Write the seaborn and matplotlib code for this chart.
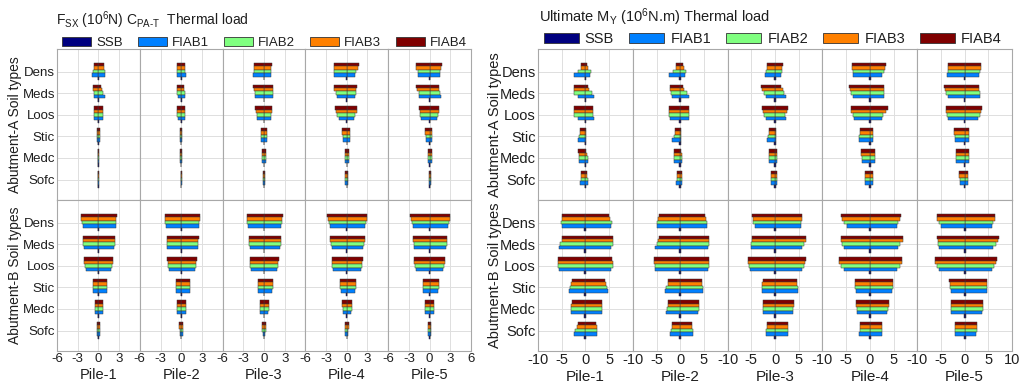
import matplotlib
matplotlib.use("Agg")
import matplotlib.pyplot as plt
from matplotlib.patches import Patch
import numpy as np
import pandas as pd
import seaborn as sns

# ---------------------------------------------------------------- labels
SOILS = ["Dens", "Meds", "Loos", "Stic", "Medc", "Sofc"]
SERIES = ["SSB", "FIAB1", "FIAB2", "FIAB3", "FIAB4"]
PILES = ["Pile-1", "Pile-2", "Pile-3", "Pile-4", "Pile-5"]
COLORS = ["#00007f", "#0080ff", "#80ff80", "#ff8000", "#7f0000"]

# ---------------------------------------------------------------- F_SX (10^6 N), rows = piles, cols = soils
FSX_A_MAX = {
    "SSB":   [[0.05, 0.05, 0.05, 0.03, 0.03, 0.02], [0.05, 0.05, 0.05, 0.03, 0.03, 0.02],
              [0.05, 0.05, 0.05, 0.03, 0.03, 0.02], [0.05, 0.05, 0.05, 0.03, 0.03, 0.02],
              [0.05, 0.05, 0.05, 0.03, 0.03, 0.02]],
    "FIAB1": [[1.00, 1.00, 0.70, 0.25, 0.15, 0.08], [0.65, 0.60, 0.55, 0.15, 0.15, 0.06],
              [0.95, 1.25, 0.95, 0.45, 0.30, 0.15], [1.20, 1.20, 1.00, 0.45, 0.30, 0.20],
              [1.45, 1.70, 1.00, 0.35, 0.30, 0.15]],
    "FIAB2": [[0.90, 0.65, 0.70, 0.20, 0.15, 0.08], [0.60, 0.50, 0.55, 0.15, 0.15, 0.06],
              [1.00, 1.25, 1.05, 0.45, 0.30, 0.15], [1.40, 1.35, 1.25, 0.45, 0.30, 0.20],
              [1.55, 1.55, 1.15, 0.35, 0.30, 0.15]],
    "FIAB3": [[0.85, 0.45, 0.70, 0.20, 0.15, 0.08], [0.60, 0.45, 0.60, 0.15, 0.15, 0.06],
              [1.05, 1.25, 1.15, 0.45, 0.30, 0.15], [1.65, 1.40, 1.45, 0.50, 0.30, 0.20],
              [1.70, 1.40, 1.30, 0.35, 0.30, 0.15]],
    "FIAB4": [[0.85, 0.40, 0.70, 0.20, 0.15, 0.08], [0.60, 0.40, 0.60, 0.15, 0.15, 0.06],
              [1.10, 1.30, 1.20, 0.45, 0.30, 0.15], [1.80, 1.45, 1.55, 0.50, 0.30, 0.20],
              [1.80, 1.35, 1.35, 0.35, 0.30, 0.15]],
}
FSX_A_MIN = {
    "SSB":   [[-0.05, -0.05, -0.05, -0.03, -0.03, -0.02], [-0.05, -0.05, -0.05, -0.03, -0.03, -0.02],
              [-0.05, -0.05, -0.05, -0.03, -0.03, -0.02], [-0.05, -0.05, -0.05, -0.03, -0.03, -0.02],
              [-0.05, -0.05, -0.05, -0.03, -0.03, -0.02]],
    "FIAB1": [[-1.00, -0.60, -0.60, -0.15, -0.12, -0.06], [-0.65, -0.50, -0.50, -0.15, -0.12, -0.05],
              [-1.55, -1.30, -0.95, -0.45, -0.30, -0.15], [-1.90, -1.45, -1.20, -0.55, -0.30, -0.20],
              [-1.70, -1.55, -1.30, -0.55, -0.30, -0.15]],
    "FIAB2": [[-0.80, -0.70, -0.65, -0.15, -0.12, -0.06], [-0.60, -0.55, -0.55, -0.15, -0.12, -0.05],
              [-1.45, -1.35, -1.05, -0.45, -0.30, -0.15], [-1.90, -1.60, -1.35, -0.60, -0.30, -0.20],
              [-1.75, -1.60, -1.35, -0.55, -0.30, -0.15]],
    "FIAB3": [[-0.70, -0.80, -0.70, -0.15, -0.12, -0.06], [-0.60, -0.60, -0.60, -0.15, -0.12, -0.05],
              [-1.45, -1.50, -1.20, -0.50, -0.30, -0.15], [-1.90, -1.85, -1.55, -0.65, -0.30, -0.20],
              [-1.95, -1.85, -1.45, -0.65, -0.30, -0.15]],
    "FIAB4": [[-0.70, -0.80, -0.70, -0.15, -0.12, -0.06], [-0.60, -0.60, -0.60, -0.15, -0.12, -0.05],
              [-1.45, -1.55, -1.25, -0.50, -0.30, -0.15], [-1.90, -1.90, -1.65, -0.70, -0.30, -0.20],
              [-2.00, -1.95, -1.55, -0.70, -0.30, -0.15]],
}
FSX_B_MAX = {
    "SSB":   [[0.06, 0.06, 0.06, 0.05, 0.05, 0.04], [0.06, 0.06, 0.06, 0.05, 0.05, 0.04],
              [0.06, 0.06, 0.06, 0.05, 0.05, 0.04], [0.06, 0.06, 0.06, 0.05, 0.05, 0.04],
              [0.06, 0.06, 0.06, 0.05, 0.05, 0.04]],
    "FIAB1": [[2.55, 2.30, 1.85, 1.20, 0.60, 0.20], [2.60, 2.40, 2.00, 1.25, 0.65, 0.20],
              [2.50, 2.30, 1.90, 1.20, 0.65, 0.20], [2.60, 2.40, 2.00, 1.25, 0.65, 0.20],
              [2.60, 2.35, 1.95, 1.25, 0.65, 0.20]],
    "FIAB2": [[2.60, 2.35, 1.95, 1.20, 0.60, 0.20], [2.65, 2.45, 2.10, 1.25, 0.70, 0.22],
              [2.60, 2.40, 2.00, 1.25, 0.70, 0.22], [2.75, 2.50, 2.15, 1.30, 0.70, 0.22],
              [2.75, 2.45, 2.10, 1.30, 0.70, 0.22]],
    "FIAB3": [[2.60, 2.40, 2.05, 1.20, 0.60, 0.25], [2.70, 2.50, 2.20, 1.25, 0.70, 0.25],
              [2.65, 2.45, 2.10, 1.25, 0.70, 0.25], [2.90, 2.60, 2.25, 1.35, 0.70, 0.25],
              [2.90, 2.55, 2.20, 1.30, 0.70, 0.25]],
    "FIAB4": [[2.65, 2.40, 2.10, 1.20, 0.60, 0.25], [2.75, 2.55, 2.25, 1.25, 0.70, 0.25],
              [2.70, 2.50, 2.15, 1.25, 0.70, 0.25], [3.00, 2.65, 2.30, 1.35, 0.70, 0.25],
              [2.95, 2.55, 2.25, 1.30, 0.70, 0.25]],
}
FSX_B_MIN = {
    "SSB":   [[-0.06, -0.06, -0.06, -0.05, -0.05, -0.04], [-0.06, -0.06, -0.06, -0.05, -0.05, -0.04],
              [-0.06, -0.06, -0.06, -0.05, -0.05, -0.04], [-0.06, -0.06, -0.06, -0.05, -0.05, -0.04],
              [-0.06, -0.06, -0.06, -0.05, -0.05, -0.04]],
    "FIAB1": [[-2.30, -2.15, -1.85, -0.80, -0.55, -0.20], [-2.20, -2.00, -1.80, -0.75, -0.55, -0.20],
              [-2.25, -2.05, -1.90, -0.85, -0.55, -0.20], [-2.40, -2.20, -1.95, -0.90, -0.60, -0.20],
              [-2.45, -2.20, -2.00, -0.90, -0.60, -0.20]],
    "FIAB2": [[-2.35, -2.20, -1.95, -0.80, -0.55, -0.22], [-2.30, -2.05, -1.90, -0.80, -0.58, -0.22],
              [-2.40, -2.15, -2.00, -0.88, -0.58, -0.22], [-2.60, -2.30, -2.10, -0.95, -0.62, -0.22],
              [-2.60, -2.30, -2.15, -0.95, -0.62, -0.22]],
    "FIAB3": [[-2.45, -2.20, -2.05, -0.80, -0.55, -0.25], [-2.35, -2.10, -1.95, -0.80, -0.60, -0.25],
              [-2.45, -2.20, -2.05, -0.90, -0.60, -0.25], [-2.75, -2.40, -2.20, -1.00, -0.65, -0.25],
              [-2.75, -2.40, -2.25, -1.00, -0.65, -0.25]],
    "FIAB4": [[-2.50, -2.20, -2.10, -0.80, -0.55, -0.25], [-2.40, -2.10, -2.00, -0.80, -0.60, -0.25],
              [-2.50, -2.20, -2.10, -0.90, -0.60, -0.25], [-2.80, -2.40, -2.20, -1.00, -0.65, -0.25],
              [-2.80, -2.40, -2.30, -1.00, -0.65, -0.25]],
}

# ---------------------------------------------------------------- ultimate M_Y (10^6 N.m)
MY_A_MAX = {
    "SSB":   [[0.15, 0.15, 0.15, 0.15, 0.15, 0.15], [0.15, 0.15, 0.15, 0.15, 0.15, 0.15],
              [0.15, 0.15, 0.15, 0.15, 0.15, 0.15], [0.15, 0.15, 0.15, 0.15, 0.15, 0.15],
              [0.15, 0.15, 0.15, 0.15, 0.15, 0.15]],
    "FIAB1": [[0.90, 1.80, 1.80, 0.15, 0.50, 0.50], [1.10, 1.80, 1.90, 0.20, 0.30, 0.40],
              [1.35, 2.30, 2.30, 0.30, 0.50, 0.50], [2.65, 2.90, 2.50, 0.70, 1.00, 0.60],
              [3.00, 3.20, 2.90, 0.90, 1.00, 0.70]],
    "FIAB2": [[1.20, 1.40, 1.70, 0.20, 0.50, 0.50], [1.30, 1.50, 1.80, 0.20, 0.40, 0.45],
              [1.45, 2.00, 2.10, 0.30, 0.50, 0.50], [3.00, 2.90, 2.80, 0.70, 1.05, 0.60],
              [3.20, 3.15, 3.20, 0.90, 1.00, 0.70]],
    "FIAB3": [[0.60, 0.80, 1.70, 0.15, 0.30, 0.40], [0.80, 0.90, 1.85, 0.20, 0.30, 0.40],
              [1.55, 1.60, 2.50, 0.30, 0.50, 0.50], [3.30, 2.90, 3.50, 0.70, 1.10, 0.60],
              [3.40, 3.10, 3.50, 0.90, 1.00, 0.70]],
    "FIAB4": [[0.30, 0.50, 1.70, 0.15, 0.15, 0.30], [0.60, 0.60, 1.90, 0.20, 0.20, 0.40],
              [1.60, 1.35, 2.65, 0.30, 0.50, 0.50], [3.45, 2.90, 3.75, 0.70, 1.10, 0.60],
              [3.45, 3.10, 3.60, 0.90, 1.00, 0.70]],
}
MY_A_MIN = {
    "SSB":   [[-0.15, -0.15, -0.15, -0.15, -0.15, -0.15], [-0.15, -0.15, -0.15, -0.15, -0.15, -0.15],
              [-0.15, -0.15, -0.15, -0.15, -0.15, -0.15], [-0.15, -0.15, -0.15, -0.15, -0.15, -0.15],
              [-0.15, -0.15, -0.15, -0.15, -0.15, -0.15]],
    "FIAB1": [[-2.50, -1.65, -1.65, -1.65, -1.30, -1.10], [-2.30, -1.80, -2.20, -1.80, -1.30, -0.80],
              [-2.20, -2.00, -1.90, -1.65, -1.20, -0.90], [-3.60, -3.60, -3.30, -2.30, -1.70, -1.10],
              [-3.70, -3.60, -3.60, -2.00, -1.80, -1.00]],
    "FIAB2": [[-1.60, -2.30, -2.30, -1.40, -1.40, -1.00], [-1.50, -2.00, -2.30, -1.40, -1.30, -0.75],
              [-1.90, -2.40, -2.30, -1.50, -1.25, -0.85], [-3.60, -3.90, -3.60, -2.20, -1.75, -1.10],
              [-3.60, -3.90, -3.80, -2.10, -1.80, -1.05]],
    "FIAB3": [[-1.00, -2.50, -2.50, -1.20, -1.45, -0.95], [-0.90, -2.10, -2.30, -1.10, -1.30, -0.72],
              [-1.70, -2.80, -2.60, -1.35, -1.30, -0.80], [-3.70, -4.20, -3.90, -2.15, -1.80, -1.10],
              [-3.60, -4.20, -4.00, -2.15, -1.80, -1.10]],
    "FIAB4": [[-0.95, -2.50, -2.50, -1.10, -1.50, -0.90], [-0.85, -2.15, -2.30, -1.00, -1.30, -0.70],
              [-1.65, -2.90, -2.70, -1.30, -1.30, -0.80], [-3.70, -4.30, -4.00, -2.15, -1.80, -1.10],
              [-3.60, -4.30, -4.00, -2.15, -1.80, -1.10]],
}
MY_B_MAX = {
    "SSB":   [[0.20, 0.20, 0.20, 0.20, 0.20, 0.20], [0.20, 0.20, 0.20, 0.20, 0.20, 0.20],
              [0.20, 0.20, 0.20, 0.20, 0.20, 0.20], [0.20, 0.20, 0.20, 0.20, 0.20, 0.20],
              [0.20, 0.20, 0.20, 0.20, 0.20, 0.20]],
    "FIAB1": [[5.50, 5.50, 5.50, 4.70, 3.60, 2.50], [5.75, 5.80, 5.90, 4.90, 3.80, 2.70],
              [5.40, 5.60, 5.60, 4.80, 3.70, 2.65], [5.75, 5.90, 5.80, 4.70, 3.70, 2.65],
              [5.75, 5.90, 5.70, 4.70, 3.60, 2.50]],
    "FIAB2": [[5.60, 5.90, 5.80, 4.50, 3.60, 2.45], [5.70, 6.00, 6.00, 4.80, 3.90, 2.60],
              [5.50, 6.10, 6.10, 4.75, 3.90, 2.65], [6.00, 6.40, 6.30, 4.80, 3.90, 2.65],
              [6.00, 6.60, 6.30, 4.75, 3.80, 2.60]],
    "FIAB3": [[5.20, 5.90, 5.75, 4.30, 3.60, 2.35], [5.40, 6.10, 6.00, 4.60, 4.00, 2.55],
              [5.70, 6.50, 6.40, 4.70, 4.05, 2.65], [6.40, 6.90, 6.75, 4.85, 4.05, 2.65],
              [6.40, 7.10, 6.70, 4.80, 3.90, 2.70]],
    "FIAB4": [[5.00, 5.90, 5.70, 4.20, 3.60, 2.30], [5.20, 6.10, 6.00, 4.50, 4.00, 2.50],
              [5.75, 6.60, 6.50, 4.70, 4.10, 2.65], [6.50, 7.00, 6.85, 4.90, 4.10, 2.65],
              [6.50, 7.20, 6.80, 4.80, 3.95, 2.70]],
}
MY_B_MIN = {
    "SSB":   [[-0.20, -0.20, -0.20, -0.20, -0.20, -0.20], [-0.20, -0.20, -0.20, -0.20, -0.20, -0.20],
              [-0.20, -0.20, -0.20, -0.20, -0.20, -0.20], [-0.20, -0.20, -0.20, -0.20, -0.20, -0.20],
              [-0.20, -0.20, -0.20, -0.20, -0.20, -0.20]],
    "FIAB1": [[-4.90, -5.60, -5.60, -3.45, -3.10, -2.40], [-4.90, -5.40, -5.30, -3.20, -2.90, -2.20],
              [-4.30, -5.00, -5.20, -2.80, -2.60, -1.90], [-4.80, -5.50, -5.50, -3.00, -2.70, -2.20],
              [-4.90, -5.40, -5.50, -2.90, -2.80, -2.10]],
    "FIAB2": [[-5.20, -5.40, -5.70, -3.30, -3.00, -2.20], [-5.00, -5.00, -5.40, -3.00, -2.80, -2.00],
              [-4.60, -5.00, -5.50, -2.70, -2.60, -1.80], [-5.40, -5.80, -6.00, -3.10, -2.80, -2.10],
              [-5.40, -5.60, -5.90, -3.00, -2.85, -2.00]],
    "FIAB3": [[-5.00, -5.00, -5.75, -3.00, -2.95, -1.75], [-4.60, -4.70, -5.50, -2.60, -2.60, -1.75],
              [-4.70, -4.90, -5.80, -2.65, -2.60, -1.70], [-5.90, -6.00, -6.40, -3.20, -2.90, -2.00],
              [-5.80, -5.70, -6.20, -3.15, -2.90, -1.95]],
    "FIAB4": [[-4.90, -4.90, -5.75, -2.90, -2.90, -1.65], [-4.50, -4.50, -5.50, -2.50, -2.50, -1.65],
              [-4.75, -4.90, -5.80, -2.60, -2.60, -1.65], [-6.00, -6.00, -6.50, -3.20, -2.90, -2.00],
              [-5.90, -5.75, -6.30, -3.20, -2.90, -1.95]],
}

# ---------------------------------------------------------------- style
sns.set_theme(style="whitegrid")
plt.rcParams["font.family"] = ["Liberation Sans", "DejaVu Sans"]
plt.rcParams["mathtext.fontset"] = "custom"
plt.rcParams["mathtext.rm"] = "Liberation Sans"
plt.rcParams["mathtext.it"] = "Liberation Sans:italic"
plt.rcParams["mathtext.default"] = "regular"

TEXT = "#1e1e1e"
GRID = "#dedede"
SPINE = "#a8a8a8"
PALETTE = dict(zip(SERIES, COLORS))
DRAW_ORDER = SERIES[::-1]          # FIAB4 on top, SSB at the bottom of each group

W, H = 1023, 385
fig = plt.figure(figsize=(W / 100, H / 100), dpi=100)


def long_frame(table, pile):
    rows = []
    for s in SERIES:
        for soil, v in zip(SOILS, table[s][pile]):
            rows.append((soil, s, v))
    return pd.DataFrame(rows, columns=["soil", "series", "value"])


def draw_panel(x0, x1, rows, lim, ticks, tick_fs, lab_fs, ylab_x):
    gs = fig.add_gridspec(2, 5, left=x0 / W, right=x1 / W,
                          top=1 - 49 / H, bottom=1 - 351 / H, wspace=0, hspace=0)
    for r, (tmax, tmin, ylabel) in enumerate(rows):
        for p in range(5):
            ax = fig.add_subplot(gs[r, p])
            for tab in (tmax, tmin):
                sns.barplot(data=long_frame(tab, p), x="value", y="soil",
                            hue="series", hue_order=DRAW_ORDER, order=SOILS,
                            palette=PALETTE, orient="h", width=0.8, saturation=1,
                            errorbar=None, legend=False, ax=ax,
                            edgecolor="#3a3a3a", linewidth=0.35)
            ax.set_xlim(-lim, lim)
            ax.set_ylim(5.95, -1.05)
            ax.set_xticks(ticks)
            labels = [f"{t:g}" for t in ticks]
            if p < 4:
                labels[-1] = ""
            ax.set_xticklabels(labels)
            ax.set_axisbelow(True)
            ax.xaxis.grid(True, color=GRID, lw=0.7)
            ax.yaxis.grid(True, color=GRID, lw=0.7)
            for sp in ax.spines.values():
                sp.set_visible(True)
                sp.set_color(SPINE)
                sp.set_linewidth(0.8)
            ax.tick_params(length=0, pad=1.5, labelsize=tick_fs, colors=TEXT)
            ax.tick_params(axis="x", labelbottom=(r == 1))
            ax.tick_params(axis="y", labelleft=(p == 0), labelsize=tick_fs)
            ax.set_ylabel(ylabel if p == 0 else "", fontsize=lab_fs - 0.5, color=TEXT)
            if r == 1:
                ax.set_xlabel(PILES[p], fontsize=lab_fs, color=TEXT, labelpad=2)
            else:
                ax.set_xlabel("")
            if p == 0:
                ax.yaxis.set_label_coords(ylab_x, 0.5)


draw_panel(57, 471,
           [(FSX_A_MAX, FSX_A_MIN, "Abutment-A Soil types"),
            (FSX_B_MAX, FSX_B_MIN, "Abutment-B Soil types")],
           6, [-6, -3, 0, 3, 6], 9.5, 10.5, -0.42)
draw_panel(538, 1012,
           [(MY_A_MAX, MY_A_MIN, "Abutment-A Soil types"),
            (MY_B_MAX, MY_B_MIN, "Abutment-B Soil types")],
           10, [-10, -5, 0, 5, 10], 10.5, 11, -0.38)

# ---------------------------------------------------------------- titles and legends
fig.text(56 / W, 1 - 20 / H, r"F$_{SX}$ (10$^{6}$N) C$_{PA\text{-}T}$  Thermal load",
         fontsize=10, color=TEXT, va="center", ha="left")
fig.text(539 / W, 1 - 17 / H, r"Ultimate M$_{Y}$ (10$^{6}$N.m) Thermal load",
         fontsize=10.5, color=TEXT, va="center", ha="left")

handles = [Patch(facecolor=c, edgecolor="#333333", linewidth=0.6) for c in COLORS]
fig.legend(handles, SERIES, loc="lower left", ncol=5, mode="expand", frameon=False,
           bbox_to_anchor=(62 / W, 1 - 49 / H, 405 / W, 12 / H),
           fontsize=9.5, handlelength=2.2, handleheight=0.65, handletextpad=0.4,
           borderaxespad=0, borderpad=0, labelcolor=TEXT)
fig.legend(handles, SERIES, loc="lower left", ncol=5, mode="expand", frameon=False,
           bbox_to_anchor=(544 / W, 1 - 46 / H, 458 / W, 12 / H),
           fontsize=10.5, handlelength=2.4, handleheight=0.65, handletextpad=0.4,
           borderaxespad=0, borderpad=0, labelcolor=TEXT)

fig.savefig("out.png", dpi=100)
